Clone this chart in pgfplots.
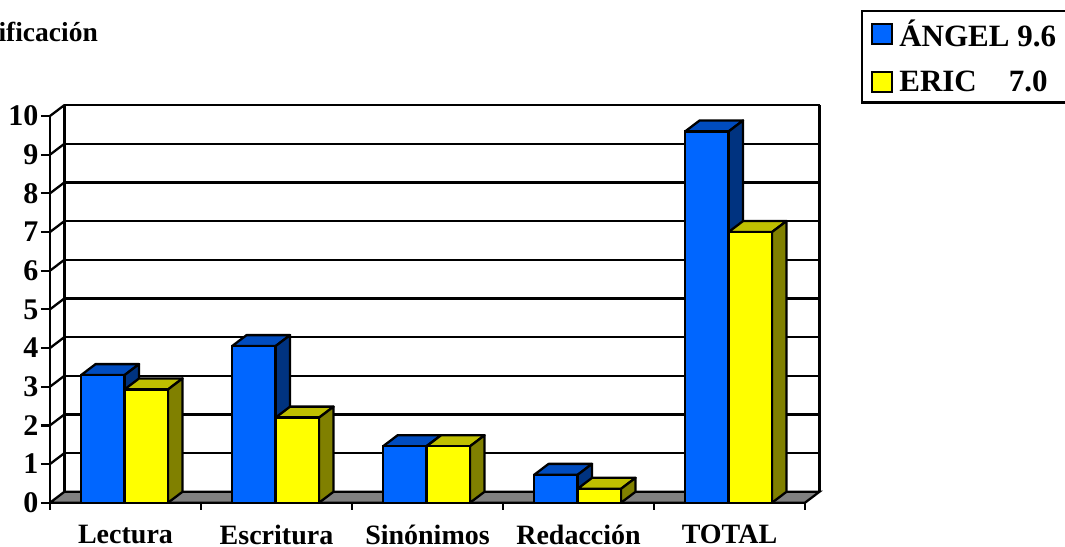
\documentclass[border=0pt]{standalone}
\usepackage{pgfplots}
\usepackage{pgfplotstable}
\usepackage{fontspec}
\setmainfont{Liberation Serif}
\pgfplotsset{compat=1.18}

\definecolor{azul}{RGB}{0,102,255}
\definecolor{azulsup}{RGB}{0,76,191}
\definecolor{azullat}{RGB}{0,51,128}
\definecolor{amarillo}{RGB}{255,255,0}
\definecolor{amarillosup}{RGB}{191,191,0}
\definecolor{amarillolat}{RGB}{128,128,0}
\definecolor{piso}{RGB}{128,128,128}

% Calificaciones por apartado
\pgfplotstableread{
x angel eric
0 3.30 2.93
1 4.05 2.20
2 1.46 1.46
3 0.72 0.36
4 9.60 7.00
}\datos

% Profundidad aparente del grafico, en unidades de los ejes
\def\dx{0.096}
\def\dy{0.284}
\def\ancho{0.288}
\def\trazo{2.3pt}

% Caras superior y lateral de las columnas de una serie
% #1 columna, #2 borde izquierdo respecto a la categoria, #3 color superior, #4 color lateral
\newcommand{\caras}[4]{%
  \pgfplotsinvokeforeach{0,...,4}{%
    \pgfplotstablegetelem{##1}{#1}\of\datos
    \pgfmathsetmacro\v{\pgfplotsretval}%
    \pgfmathsetmacro\vb{\v+\dy}%
    \pgfmathsetmacro\xa{##1+#2}%
    \pgfmathsetmacro\xb{\xa+\ancho}%
    \pgfmathsetmacro\xc{\xa+\dx}%
    \pgfmathsetmacro\xd{\xb+\dx}%
    \addplot[forget plot,fill=#3,draw=black,line width=\trazo,line join=round]
      coordinates {(\xa,\v) (\xc,\vb) (\xd,\vb) (\xb,\v) (\xa,\v)};
    \addplot[forget plot,fill=#4,draw=black,line width=\trazo,line join=round]
      coordinates {(\xb,\v) (\xd,\vb) (\xd,\dy) (\xb,0) (\xb,\v)};
  }%
}

\begin{document}
\begin{tikzpicture}[x=1pt,y=1pt]
\path[use as bounding box] (0,0) rectangle (1065,546);
\clip (0,0) rectangle (1065,546);
\begin{axis}[
  at={(50pt,43.3pt)}, anchor=south west,
  scale only axis, width=755pt, height=386.7pt,
  xmin=-0.5, xmax=4.5, ymin=0, ymax=10,
  clip=false,
  axis lines=left,
  axis line style={-,line width=\trazo},
  xtick={0,1,2,3,4},
  xticklabels={Lectura,Escritura,Sinónimos,Redacción,TOTAL},
  minor xtick={-0.5,0.5,1.5,2.5,3.5,4.5},
  ytick={0,1,...,10},
  tick align=outside,
  major tick length=9pt,
  minor tick length=7pt,
  x tick style={draw=none},
  minor x tick style={draw=black,line width=\trazo},
  y tick style={draw=black,line width=\trazo},
  /pgf/number format/assume math mode=true,
  x tick label style={yshift=-10pt,font=\fontsize{28}{28}\selectfont\bfseries},
  y tick label style={xshift=1pt,font=\fontsize{30}{30}\selectfont\bfseries},
  legend style={
    at={(rel axis cs:1.074,1.274)}, anchor=north west,
    draw=black, line width=\trazo,
    font=\fontsize{31}{31}\selectfont\bfseries,
    inner xsep=9pt, inner ysep=7pt,
    row sep=19pt,
  },
  legend cell align=left,
  legend image code/.code={
    \draw[#1,line width=\trazo] (0pt,-10pt) rectangle (20pt,10pt);
  },
]
% Paredes y piso
\fill[white] (axis cs:-0.5+\dx,\dy) rectangle (axis cs:4.5+\dx,10+\dy);
\draw[line width=\trazo,fill=piso] (axis cs:-0.5,0) -- (axis cs:4.5,0)
  -- (axis cs:4.5+\dx,\dy) -- (axis cs:-0.5+\dx,\dy) -- cycle;
\pgfplotsinvokeforeach{1,...,10}{
  \draw[line width=\trazo] (axis cs:-0.5+\dx,#1+\dy) -- (axis cs:4.5+\dx,#1+\dy);
  \draw[line width=\trazo] (axis cs:-0.5,#1) -- (axis cs:-0.5+\dx,#1+\dy);
}
\draw[line width=\trazo] (axis cs:-0.5+\dx,\dy) -- (axis cs:-0.5+\dx,10+\dy);
\draw[line width=\trazo] (axis cs:4.5+\dx,\dy) -- (axis cs:4.5+\dx,10+\dy);

\caras{angel}{-0.294}{azulsup}{azullat}
\addplot[ybar,bar width=0.288,bar shift=-0.15,fill=azul,draw=black,line width=\trazo]
  table[x=x,y=angel] {\datos};
\addlegendentry{\makebox[175pt][l]{\hspace{4pt}ÁNGEL 9.6}}
\caras{eric}{-0.006}{amarillosup}{amarillolat}
\addplot[ybar,bar width=0.288,bar shift=0.138,fill=amarillo,draw=black,line width=\trazo]
  table[x=x,y=eric] {\datos};
\addlegendentry{\makebox[175pt][l]{\hspace{4pt}ERIC\hspace{32pt}7.0}}
\end{axis}
\node[anchor=east,inner sep=0pt,font=\fontsize{27.5}{27.5}\selectfont\bfseries] at (98,514) {Calificación};
\end{tikzpicture}
\end{document}
